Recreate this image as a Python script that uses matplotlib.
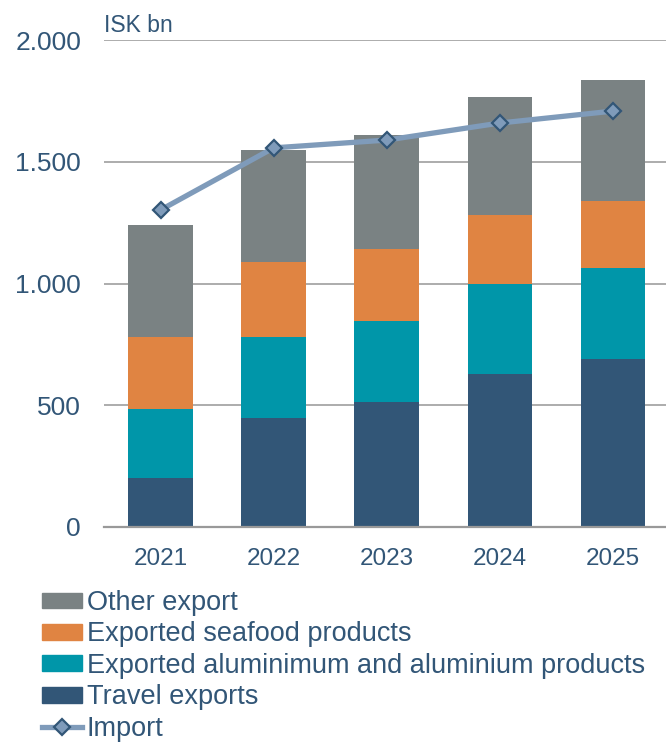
import numpy as np
import matplotlib
matplotlib.use("Agg")
import matplotlib.pyplot as plt
from matplotlib.patches import Patch
from matplotlib.lines import Line2D

plt.rcParams['font.family'] = ['Liberation Sans', 'DejaVu Sans']

# data (ISK bn)
years = ['2021', '2022', '2023', '2024', '2025']
travel = [201, 448, 513, 628, 690]
aluminium = [284, 332, 333, 370, 374]
seafood = [295, 308, 296, 283, 275]
other = [460, 460, 468, 485, 497]
imports = [1302, 1557, 1589, 1659, 1708]

labels = ['Other export', 'Exported seafood products',
          'Exported aluminimum and aluminium products', 'Travel exports', 'Import']
c_other = '#7a8283'
c_sea = '#e08442'
c_alu = '#0096a9'
c_travel = '#325677'
c_imp = '#7f9bba'
c_txt = '#325677'

fig = plt.figure(figsize=(6.66, 7.43), dpi=100)
ax = fig.add_axes([104/666, 1 - 527/743, 1 - 104/666, 487/743])

x = np.arange(len(years))
w = 0.57
b1 = np.array(travel)
b2 = b1 + np.array(aluminium)
b3 = b2 + np.array(seafood)
ax.bar(x, travel, w, color=c_travel, zorder=3)
ax.bar(x, aluminium, w, bottom=b1, color=c_alu, zorder=3)
ax.bar(x, seafood, w, bottom=b2, color=c_sea, zorder=3)
ax.bar(x, other, w, bottom=b3, color=c_other, zorder=3)
ax.plot(x, imports, color=c_imp, lw=3.8, marker='D', ms=8.5,
        mfc=c_imp, mec=c_travel, mew=1.6, zorder=4)

ax.set_xlim(-0.5, 4.47)
ax.set_ylim(0, 2000)
ax.set_yticks([0, 500, 1000, 1500, 2000])
ax.set_yticklabels(['0', '500', '1.000', '1.500', '2.000'])
ax.set_xticks(x)
ax.set_xticklabels(years)
ax.grid(axis='y', color='#a6a6a6', lw=1.3, zorder=0)
for s in ['top', 'right', 'left']:
    ax.spines[s].set_visible(False)
ax.spines['bottom'].set_color('#999999')
ax.spines['bottom'].set_linewidth(1.6)
ax.spines['bottom'].set_zorder(5)
ax.tick_params(axis='both', length=0, colors=c_txt)
ax.tick_params(axis='y', labelsize=19, pad=16.5)
ax.tick_params(axis='x', labelsize=17.5, pad=15)
ax.text(0, 2012, 'ISK bn', transform=ax.get_yaxis_transform(), ha='left', va='bottom',
        fontsize=16.5, color=c_txt)

handles = [Patch(color=c_other), Patch(color=c_sea), Patch(color=c_alu), Patch(color=c_travel),
           Line2D([], [], color=c_imp, lw=3.8, marker='D', ms=8.5, mfc=c_imp, mec=c_travel, mew=1.6)]
leg = fig.legend(handles, labels, loc='upper left', bbox_to_anchor=(42/666, 1 - 590/743),
                 frameon=False, fontsize=19.5, handlelength=1.48, handleheight=0.52,
                 handletextpad=0.18, labelspacing=0.2, borderpad=0, borderaxespad=0)
for t in leg.get_texts():
    t.set_color(c_txt)

fig.savefig('out.png', dpi=100)
